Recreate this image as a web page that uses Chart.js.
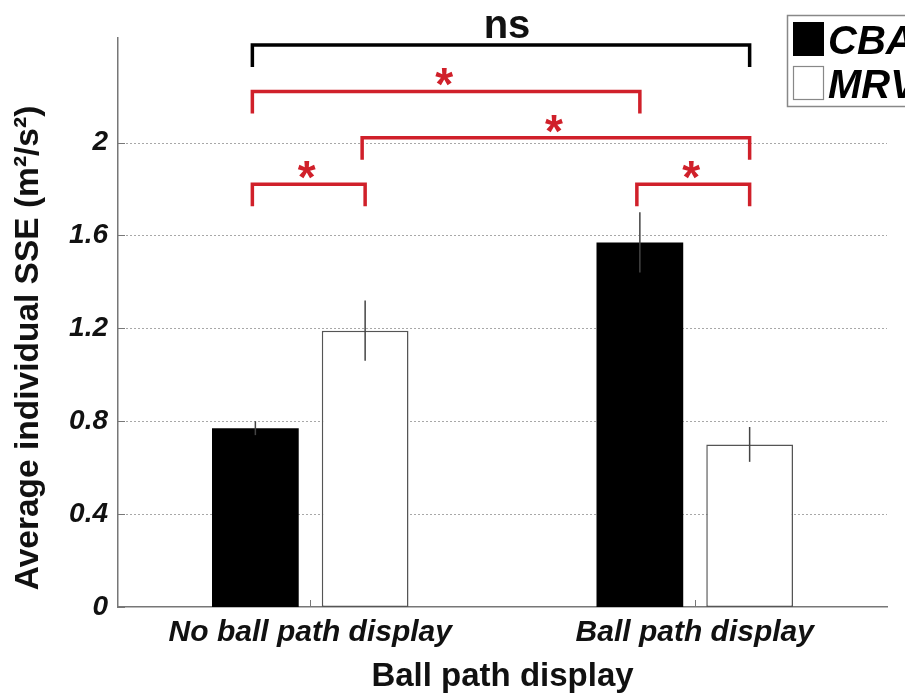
<!DOCTYPE html>
<html><head><meta charset="utf-8">
<script src="https://cdn.jsdelivr.net/npm/chart.js@4"></script>
<style>html,body{margin:0;padding:0;background:#fff}#wrap{width:905px;height:697px;overflow:hidden}</style>
</head><body><div id="wrap"><canvas id="c" width="905" height="697"></canvas></div>
<script>
const categories = ['No ball path display', 'Ball path display'];
const seriesNames = ['CBA', 'MRV'];
const cbaValues = [0.77, 1.57];
const mrvValues = [1.19, 0.70];
const cbaErrors = [0.03, 0.13];
const mrvErrors = [0.13, 0.075];
const yTickValues = [0, 0.4, 0.8, 1.2, 1.6, 2];
const yTickLabels = ['0', '0.4', '0.8', '1.2', '1.6', '2'];
const yMax = 2.45;
const xTitle = 'Ball path display';
const yTitle = 'Average individual SSE (m²/s²)';
// significance brackets: [group, series] endpoints, level (data units), label
const bracketFrom = [[0, 0], [0, 0], [0, 1], [0, 0], [1, 0]];
const bracketTo = [[1, 1], [1, 0], [1, 1], [0, 1], [1, 1]];
const bracketLevels = [2.42, 2.22, 2.02, 1.82, 1.82];
const bracketLabels = ['ns', '*', '*', '*', '*'];

const FAM = '"Liberation Sans", Arial, Helvetica, sans-serif';
const RED = '#d0202a';

const overlay = {
  id: 'overlay',
  beforeDatasetsDraw(chart) {
    const ctx = chart.ctx, y = chart.scales.y, x = chart.scales.x, a = chart.chartArea;
    ctx.save();
    ctx.strokeStyle = '#a8a8a8'; ctx.lineWidth = 1; ctx.setLineDash([2, 2]);
    yTickValues.forEach(v => {
      if (v <= 0) return;
      const py = Math.round(y.getPixelForValue(v)) + 0.5;
      ctx.beginPath(); ctx.moveTo(a.left, py); ctx.lineTo(a.right, py); ctx.stroke();
    });
    ctx.setLineDash([]);
    ctx.strokeStyle = '#777'; ctx.lineWidth = 1;
    yTickValues.forEach(v => {
      const py = Math.round(y.getPixelForValue(v)) + 0.5;
      ctx.beginPath(); ctx.moveTo(a.left, py); ctx.lineTo(a.left + 7, py); ctx.stroke();
    });
    categories.forEach((c, i) => {
      const px = Math.round(x.getPixelForValue(i)) + 0.5;
      ctx.beginPath(); ctx.moveTo(px, a.bottom); ctx.lineTo(px, a.bottom - 7); ctx.stroke();
    });
    // y axis title (rotated)
    ctx.fillStyle = '#111';
    ctx.font = 'bold 33.5px ' + FAM;
    ctx.textAlign = 'center';
    ctx.textBaseline = 'middle';
    ctx.translate(29, 348);
    ctx.rotate(-Math.PI / 2);
    ctx.fillText(yTitle, 0, 0);
    ctx.restore();
  },
  afterDatasetsDraw(chart) {
    const ctx = chart.ctx, y = chart.scales.y;
    const errs = [cbaErrors, mrvErrors];
    ctx.save();
    ctx.strokeStyle = '#444'; ctx.lineWidth = 1.5;
    errs.forEach((e, di) => {
      const meta = chart.getDatasetMeta(di);
      const vals = chart.data.datasets[di].data;
      meta.data.forEach((bar, i) => {
        const t = y.getPixelForValue(vals[i] + e[i]);
        const b = y.getPixelForValue(vals[i] - e[i]);
        ctx.beginPath(); ctx.moveTo(bar.x, t); ctx.lineTo(bar.x, b); ctx.stroke();
      });
    });
    ctx.restore();
  },
  afterDraw(chart) {
    const ctx = chart.ctx, y = chart.scales.y;
    ctx.save();
    bracketLevels.forEach((lvl, k) => {
      const f = bracketFrom[k], t = bracketTo[k];
      const x1 = chart.getDatasetMeta(f[1]).data[f[0]].x - 3;
      const x2 = chart.getDatasetMeta(t[1]).data[t[0]].x;
      const py = y.getPixelForValue(lvl);
      const isNs = bracketLabels[k] === 'ns';
      ctx.strokeStyle = isNs ? '#000' : RED;
      ctx.lineWidth = 3.5;
      ctx.lineJoin = 'miter';
      ctx.beginPath();
      ctx.moveTo(x1, py + 22); ctx.lineTo(x1, py); ctx.lineTo(x2, py); ctx.lineTo(x2, py + 22);
      ctx.stroke();
      const mx = (x1 + x2) / 2;
      ctx.textAlign = 'center';
      ctx.textBaseline = 'alphabetic';
      if (isNs) {
        ctx.fillStyle = '#111';
        ctx.font = 'bold 40px ' + FAM;
        ctx.fillText(bracketLabels[k], mx + 6, py - 7);
      } else {
        ctx.fillStyle = RED;
        ctx.font = 'bold 46px ' + FAM;
        ctx.fillText(bracketLabels[k], mx - 2, py + 9);
      }
    });
    // legend
    ctx.lineWidth = 1.5;
    ctx.strokeStyle = '#888';
    ctx.strokeRect(787.5, 15.5, 200, 91);
    ctx.fillStyle = '#000';
    ctx.fillRect(793, 22, 31, 34);
    ctx.fillStyle = '#fff';
    ctx.fillRect(793, 66, 31, 34);
    ctx.strokeStyle = '#888';
    ctx.lineWidth = 1.2;
    ctx.strokeRect(793.5, 66.5, 30, 33);
    ctx.fillStyle = '#000';
    ctx.textAlign = 'left';
    ctx.textBaseline = 'alphabetic';
    ctx.font = 'italic bold 40px ' + FAM;
    ctx.fillText(seriesNames[0], 828, 54);
    ctx.fillText(seriesNames[1], 828, 98);
    ctx.restore();
  }
};

new Chart(document.getElementById('c'), {
  type: 'bar',
  data: {
    labels: categories,
    datasets: [
      { label: seriesNames[0], data: cbaValues, backgroundColor: '#000', borderColor: '#000', borderWidth: 0,
        categoryPercentage: 0.571, barPercentage: 0.79 },
      { label: seriesNames[1], data: mrvValues, backgroundColor: '#fff', borderColor: '#555', borderWidth: 1.5,
        borderSkipped: false, categoryPercentage: 0.571, barPercentage: 0.79 }
    ]
  },
  options: {
    responsive: false,
    animation: false,
    layout: { padding: { top: 38, right: 18, left: 0, bottom: 0 } },
    plugins: { legend: { display: false }, tooltip: { enabled: false } },
    scales: {
      x: {
        grid: { display: false, drawTicks: false },
        border: { display: true, color: '#777', width: 1.5 },
        ticks: { font: { family: FAM, size: 30, weight: 'bold', style: 'italic' }, color: '#111', padding: 8, maxRotation: 0, autoSkip: false },
        title: { display: true, text: xTitle, color: '#111',
                 font: { family: FAM, size: 33, weight: 'bold' }, padding: { top: 0, bottom: 0 } },
        afterFit(s) { s.height = 90; }
      },
      y: {
        min: 0, max: yMax,
        afterBuildTicks(s) { s.ticks = yTickValues.map(v => ({ value: v })); },
        grid: { display: false, drawTicks: false },
        border: { display: true, color: '#777', width: 1.5 },
        ticks: { font: { family: FAM, size: 28, weight: 'bold', style: 'italic' }, color: '#111', padding: 10,
                 callback: (v, i) => yTickLabels[i] },
        title: { display: false },
        afterFit(s) { s.width = 118; }
      }
    }
  },
  plugins: [overlay]
});
</script>
</body></html>
